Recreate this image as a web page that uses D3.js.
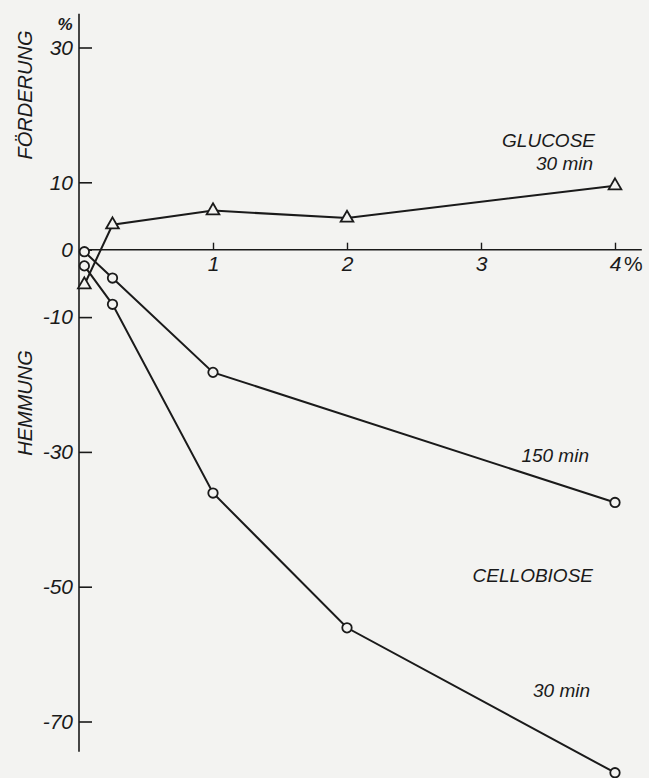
<!DOCTYPE html>
<html>
<head>
<meta charset="utf-8">
<script src="https://cdn.jsdelivr.net/npm/d3@7"></script>
<style>
	body { margin: 0; background: #f3f3f1; }
	svg text { font-family: 'Liberation Sans', Arial, sans-serif; font-style: italic; fill: #1a1a1a; }
</style>
</head>
<body>
<div id="chart"></div>
<script>
// concentration (%) on x, effect (%) on y: positive = Förderung, negative = Hemmung
const glucose_conc = [0.04, 0.25, 1, 2, 4];
const glucose_30 = [-5.2, 3.7, 5.8, 4.7, 9.5];

const cello_conc = [0.04, 0.25, 1, 4];
const cello_150 = [-0.3, -4.2, -18.2, -37.5];

const cello30_conc = [0.04, 0.25, 1, 2, 4];
const cello_30 = [-2.4, -8.1, -36.1, -56.1, -77.6];

const y_ticks = [30, 10, 0, -10, -30, -50, -70];
const x_ticks = [1, 2, 3, 4];

const width = 649;
const height = 778;

const x = d3.scaleLinear().domain([0, 4]).range([79, 615]);
const y = d3.scaleLinear().domain([30, -70]).range([47.5, 721.5]);

const svg = d3.select('#chart')
	.append('svg')
	.attr('width', width)
	.attr('height', height)
	.attr('viewBox', [0, 0, width, height]);

const ink = '#1a1a1a';

// y axis: ticks point into the plot, labels on the left (plain hyphen minus like the original)
const yAxis = svg.append('g')
	.attr('transform', 'translate(' + x(0) + ',0)')
	.call(d3.axisLeft(y).tickValues(y_ticks).tickSizeInner(-13).tickSizeOuter(0).tickPadding(6).tickFormat((d) => String(d)));
yAxis.select('.domain').remove();
yAxis.selectAll('.tick line').attr('stroke', ink).attr('stroke-width', 1.6);
yAxis.selectAll('.tick text').style('font-size', '21px').attr('fill', ink);

svg.append('line')
	.attr('x1', x(0)).attr('x2', x(0))
	.attr('y1', y(35)).attr('y2', y(-74.5))
	.attr('stroke', ink).attr('stroke-width', 1.6);

// x axis along zero, ticks pointing up
const xAxis = svg.append('g')
	.attr('transform', 'translate(0,' + y(0) + ')')
	.call(d3.axisBottom(x).tickValues(x_ticks).tickSizeInner(-7).tickSizeOuter(0).tickPadding(6).tickFormat((d) => String(d)));
xAxis.select('.domain').remove();
xAxis.selectAll('.tick line').attr('stroke', ink).attr('stroke-width', 1.4);
xAxis.selectAll('.tick text').style('font-size', '21px').attr('fill', ink);

svg.append('line')
	.attr('x1', x(0)).attr('x2', x(4.2))
	.attr('y1', y(0)).attr('y2', y(0))
	.attr('stroke', ink).attr('stroke-width', 1.4);

svg.append('text')
	.attr('x', x(4) + 9).attr('y', y(0) + 21)
	.style('font-size', '21px').style('font-style', 'normal')
	.text('%');

svg.append('text')
	.attr('x', 65).attr('y', 30)
	.attr('text-anchor', 'middle')
	.style('font-size', '17px').style('font-weight', 'bold')
	.text('%');

// axis titles
svg.append('text')
	.attr('transform', 'translate(32,' + 95 + ') rotate(-90)')
	.attr('text-anchor', 'middle')
	.style('font-size', '20px')
	.text('FÖRDERUNG');

svg.append('text')
	.attr('transform', 'translate(32,' + 403 + ') rotate(-90)')
	.attr('text-anchor', 'middle')
	.style('font-size', '20px')
	.text('HEMMUNG');

// series
const line = d3.line().x((d) => x(d[0])).y((d) => y(d[1]));

function draw_series(xs, ys, marker) {
	const pts = xs.map((d, i) => [d, ys[i]]);
	svg.append('path')
		.datum(pts)
		.attr('d', line)
		.attr('fill', 'none')
		.attr('stroke', ink)
		.attr('stroke-width', 2);

	const sym = marker == 'triangle'
		? d3.symbol().type(d3.symbolTriangle).size(70)
		: d3.symbol().type(d3.symbolCircle).size(70);

	svg.append('g')
		.selectAll('path')
		.data(pts)
		.enter()
		.append('path')
		.attr('d', sym)
		.attr('transform', (d) => 'translate(' + [x(d[0]), y(d[1])] + ')')
		.attr('fill', '#f3f3f1')
		.attr('stroke', ink)
		.attr('stroke-width', 1.8);
}

draw_series(cello_conc, cello_150, 'circle');
draw_series(cello30_conc, cello_30, 'circle');
draw_series(glucose_conc, glucose_30, 'triangle');

// annotations
const notes = [
	{ text: 'GLUCOSE', x: 595, y: 147 },
	{ text: '30 min', x: 593, y: 170 },
	{ text: '150 min', x: 589, y: 462 },
	{ text: 'CELLOBIOSE', x: 593, y: 582 },
	{ text: '30 min', x: 590, y: 697 }
];

svg.append('g')
	.selectAll('text')
	.data(notes)
	.enter()
	.append('text')
	.attr('x', (d) => d.x)
	.attr('y', (d) => d.y)
	.attr('text-anchor', 'end')
	.style('font-size', '19px')
	.text((d) => d.text);
</script>
</body>
</html>
